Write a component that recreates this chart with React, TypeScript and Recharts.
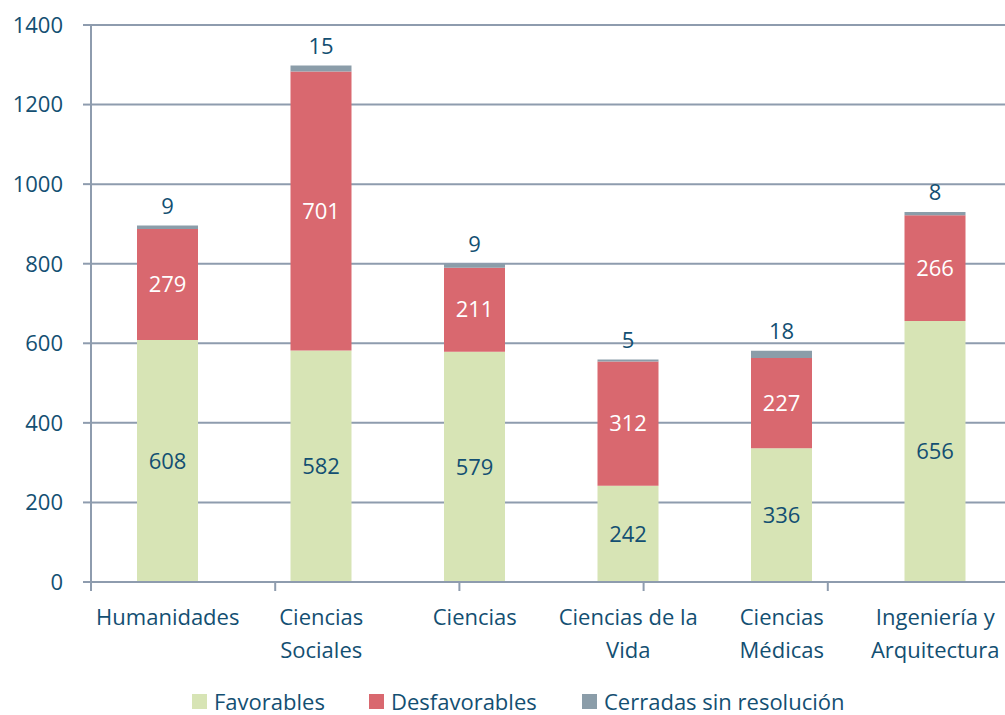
import React from "react";
import {
  BarChart,
  Bar,
  XAxis,
  YAxis,
  CartesianGrid,
  Legend,
  LabelList,
} from "recharts";

const categories = [
  "Humanidades",
  "Ciencias Sociales",
  "Ciencias",
  "Ciencias de la Vida",
  "Ciencias Médicas",
  "Ingeniería y Arquitectura",
];
const tickLines = [
  ["Humanidades"],
  ["Ciencias", "Sociales"],
  ["Ciencias"],
  ["Ciencias de la", "Vida"],
  ["Ciencias", "Médicas"],
  ["Ingeniería y", "Arquitectura"],
];
const favorables = [608, 582, 579, 242, 336, 656];
const desfavorables = [279, 701, 211, 312, 227, 266];
const cerradas = [9, 15, 9, 5, 18, 8];
const seriesNames = ["Favorables", "Desfavorables", "Cerradas sin resolución"];
const yTicks = [0, 200, 400, 600, 800, 1000, 1200, 1400];
const edgeTicks = [0, 1, 2, 3, 4, 5, 6];

const data = categories.map((name, i) => ({
  name,
  fav: favorables[i],
  desf: desfavorables[i],
  cer: cerradas[i],
}));

const FONT = "'Open Sans', sans-serif";
const TEXT = "#134F72";
const AXIS = "#8E9CAE";
const COLORS = ["#D7E4B5", "#D9686F", "#8B9DA9"];
const LEGEND_LEFT = [192, 369, 582];

const CatTick = (props: any) => {
  const { x, y, payload } = props;
  const idx = categories.indexOf(payload.value);
  const lines = tickLines[idx] || [payload.value];
  return (
    <text x={x} y={y} textAnchor="middle" fill={TEXT} fontSize={22} fontFamily={FONT}>
      {lines.map((l, i) => (
        <tspan key={i} x={x} dy={i === 0 ? 42 : 33}>
          {l}
        </tspan>
      ))}
    </text>
  );
};

const EmptyTick = () => <g />;

const renderLegend = () => (
  <div style={{ position: "relative", height: 22, width: 1005, fontFamily: FONT, fontSize: 22, color: TEXT, lineHeight: "22px" }}>
    {seriesNames.map((n, i) => (
      <div key={n} style={{ position: "absolute", left: LEGEND_LEFT[i], top: 0, height: 22, display: "flex", alignItems: "center", whiteSpace: "nowrap" }}>
        <span style={{ display: "inline-block", width: 15, height: 15, background: COLORS[i], marginRight: 7 }} />
        <span>{n}</span>
      </div>
    ))}
  </div>
);

export default function App() {
  return (
    <div style={{ position: "absolute", left: 0, top: 0, width: 1005, height: 715, overflow: "hidden", background: "#fff", fontFamily: FONT }}>
      <BarChart width={1020} height={715} data={data} margin={{ top: 25, right: 8, left: 0, bottom: 0 }}>
        <CartesianGrid vertical={false} stroke={AXIS} strokeWidth={2} xAxisId="z1" />
        <XAxis
          xAxisId="e0"
          type="number"
          domain={[0, 6]}
          ticks={edgeTicks}
          interval={0}
          tick={<EmptyTick />}
          height={1}
          axisLine={{ stroke: AXIS, strokeWidth: 2 }}
          tickLine={{ stroke: AXIS, strokeWidth: 2 }}
          tickSize={9}
          allowDataOverflow
        />
        <XAxis
          xAxisId="z1"
          dataKey="name"
          axisLine={false}
          tickLine={false}
          tickSize={0}
          tickMargin={0}
          height={110}
          interval={0}
          tick={<CatTick />}
        />
        <YAxis
          width={91}
          domain={[0, 1400]}
          ticks={yTicks}
          interval={0}
          tick={{ fill: TEXT, fontSize: 22, fontFamily: FONT }}
          tickSize={8}
          tickMargin={20}
          axisLine={{ stroke: AXIS, strokeWidth: 2 }}
          tickLine={{ stroke: AXIS, strokeWidth: 2 }}
        />
        <Legend verticalAlign="bottom" content={renderLegend} wrapperStyle={{ top: 690, bottom: "auto", left: 0, width: 1005 }} />
        <Bar xAxisId="z1" dataKey="fav" stackId="a" fill={COLORS[0]} barSize={61} isAnimationActive={false}>
          <LabelList dataKey="fav" position="center" fill={TEXT} fontSize={22} fontFamily={FONT} />
        </Bar>
        <Bar xAxisId="z1" dataKey="desf" stackId="a" fill={COLORS[1]} barSize={61} isAnimationActive={false}>
          <LabelList dataKey="desf" position="center" fill="#FFFFFF" fontSize={22} fontFamily={FONT} />
        </Bar>
        <Bar xAxisId="z1" dataKey="cer" stackId="a" fill={COLORS[2]} barSize={61} isAnimationActive={false}>
          <LabelList dataKey="cer" position="top" offset={12} fill={TEXT} fontSize={22} fontFamily={FONT} />
        </Bar>
      </BarChart>
    </div>
  );
}
